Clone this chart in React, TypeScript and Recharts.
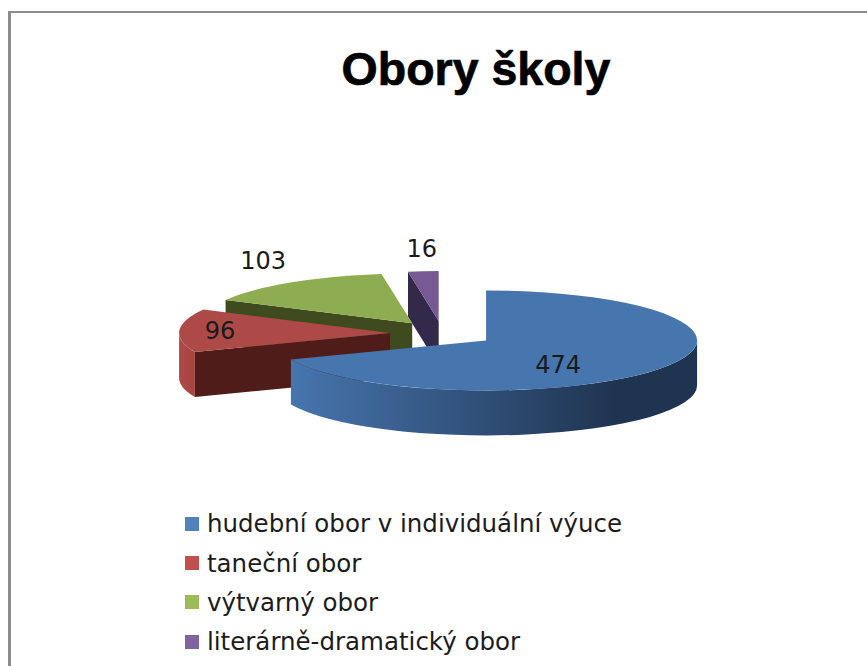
import React from "react";
import { Legend, Pie, PieChart } from "recharts";

const categories = [
  "hudební obor v individuální výuce",
  "taneční obor",
  "výtvarný obor",
  "literárně-dramatický obor",
];
const values = [474, 96, 103, 16];

const legendColors = ["#4f81bd", "#c0504d", "#9bbb59", "#8064a2"];
const topColors = ["#4775ae", "#ad4a47", "#8dad50", "#775a94"];
const edgeColors = ["#1f3450", "#4f1c1a", "#3f4b1e", "#33294a"];
const rimFrom = ["#4775ae", "#ad4a47", "#8dad50", "#775a94"];
const rimTo = ["#1f3450", "#a84542", "#8dad50", "#775a94"];
const labelDx = [72, -170, -149, -17];
const labelDy = [25, -2, -62, -72];

// the 3d look: squashed ellipse, every slice pulled out the same amount
const RX = 211;
const RY = 50;
const DEPTH = 45;
const EXPLODE = 0.2487;

// drawn back to front, so counter-clockwise from the top with the big slice last
const pieData = categories
  .map((name, i) => ({
    name,
    value: values[i],
    fill: topColors[i],
    edge: edgeColors[i],
    rimFrom: rimFrom[i],
    rimTo: rimTo[i],
    labelDx: labelDx[i],
    labelDy: labelDy[i],
    gradientId: `rim-${i}`,
  }))
  .reverse();

const rad = (deg: number) => (deg * Math.PI) / 180;

const apexOf = (cx: number, cy: number, mid: number) => ({
  x: cx + EXPLODE * RX * Math.cos(rad(mid)),
  y: cy - EXPLODE * RY * Math.sin(rad(mid)),
});

const Slice3D = (props: any) => {
  const { cx, cy, startAngle, endAngle, fill, payload } = props;
  const a1 = Math.min(startAngle, endAngle);
  const a2 = Math.max(startAngle, endAngle);
  const apex = apexOf(cx, cy, (a1 + a2) / 2);
  const pt = (a: number) => ({
    x: apex.x + RX * Math.cos(rad(a)),
    y: apex.y - RY * Math.sin(rad(a)),
  });
  const p1 = pt(a1);
  const p2 = pt(a2);
  const large = a2 - a1 > 180 ? 1 : 0;
  const top = `M${apex.x},${apex.y} L${p1.x},${p1.y} A${RX},${RY} 0 ${large} 0 ${p2.x},${p2.y} Z`;

  const wall = (p: { x: number; y: number }) =>
    `M${apex.x},${apex.y} L${p.x},${p.y} L${p.x},${p.y + DEPTH} L${apex.x},${apex.y + DEPTH} Z`;

  // outer rim only shows on the front half of the ellipse
  let rim = null;
  let gradient = null;
  const k = Math.floor(a1 / 360) * 360;
  const lo = Math.max(a1, k + 180);
  const hi = Math.min(a2, k + 360);
  if (hi > lo) {
    const l = pt(lo);
    const h = pt(hi);
    const big = hi - lo > 180 ? 1 : 0;
    rim = `M${l.x},${l.y} A${RX},${RY} 0 ${big} 0 ${h.x},${h.y} L${h.x},${h.y + DEPTH} A${RX},${RY} 0 ${big} 1 ${l.x},${l.y + DEPTH} Z`;
    gradient = (
      <linearGradient
        id={payload.gradientId}
        gradientUnits="userSpaceOnUse"
        x1={l.x}
        x2={l.x + (h.x - l.x) * 0.8}
        y1={0}
        y2={0}
      >
        <stop offset="0" stopColor={payload.rimFrom} />
        <stop offset="1" stopColor={payload.rimTo} />
      </linearGradient>
    );
  }

  return (
    <g>
      {gradient && <defs>{gradient}</defs>}
      {Math.cos(rad(a2)) < -0.001 && <path d={wall(p2)} fill={payload.edge} />}
      {Math.cos(rad(a1)) > 0.001 && <path d={wall(p1)} fill={payload.edge} />}
      {rim && <path d={rim} fill={`url(#${payload.gradientId})`} />}
      <path d={top} fill={fill} />
    </g>
  );
};

const renderLabel = (props: any) => {
  const { cx, cy, midAngle, value, payload } = props;
  const apex = apexOf(cx, cy, midAngle);
  return (
    <text
      x={apex.x + payload.labelDx}
      y={apex.y + payload.labelDy}
      textAnchor="middle"
      dominantBaseline="central"
      fontFamily="DejaVu Sans"
      fontSize={24}
      fill="#1a1a1a"
    >
      {value}
    </text>
  );
};

const renderLegend = () => (
  <div style={{ fontFamily: "DejaVu Sans", fontSize: 24.5, color: "#1c1c1c" }}>
    {categories.map((name, i) => (
      <div key={name} style={{ display: "flex", alignItems: "center", height: 39.4 }}>
        <span
          style={{
            display: "inline-block",
            width: 14,
            height: 14,
            marginRight: 8,
            background: legendColors[i],
          }}
        />
        <span>{name}</span>
      </div>
    ))}
  </div>
);

export default function App() {
  return (
    <div style={{ position: "absolute", left: 0, top: 0, width: 867, height: 666, overflow: "hidden", background: "#fff" }}>
      <div
        style={{
          position: "absolute",
          left: 8,
          top: 11,
          right: 0,
          bottom: 0,
          borderLeft: "3px solid #8c8c8c",
          borderTop: "2px solid #8c8c8c",
        }}
      />
      <div style={{ position: "absolute", left: 0, top: 0 }}>
        <PieChart width={867} height={666} margin={{ top: 0, right: 0, bottom: 0, left: 0 }}>
          <text
            x={476}
            y={85}
            textAnchor="middle"
            fontFamily="Liberation Sans"
            fontWeight="bold"
            fontSize={46.5}
            stroke="#000"
            strokeWidth={0.7}
            fill="#000"
          >
            Obory školy
          </text>
          <Pie
            data={pieData}
            dataKey="value"
            nameKey="name"
            cx={442.5}
            cy={333.5}
            innerRadius={0}
            outerRadius={RX}
            startAngle={90}
            endAngle={450}
            stroke="none"
            shape={Slice3D}
            label={renderLabel}
            labelLine={false}
            isAnimationActive={false}
          />
          <Legend
            layout="vertical"
            align="center"
            verticalAlign="middle"
            content={renderLegend}
            wrapperStyle={{ position: "absolute", left: 185, top: 504, width: 480, height: 160 }}
          />
        </PieChart>
      </div>
    </div>
  );
}
